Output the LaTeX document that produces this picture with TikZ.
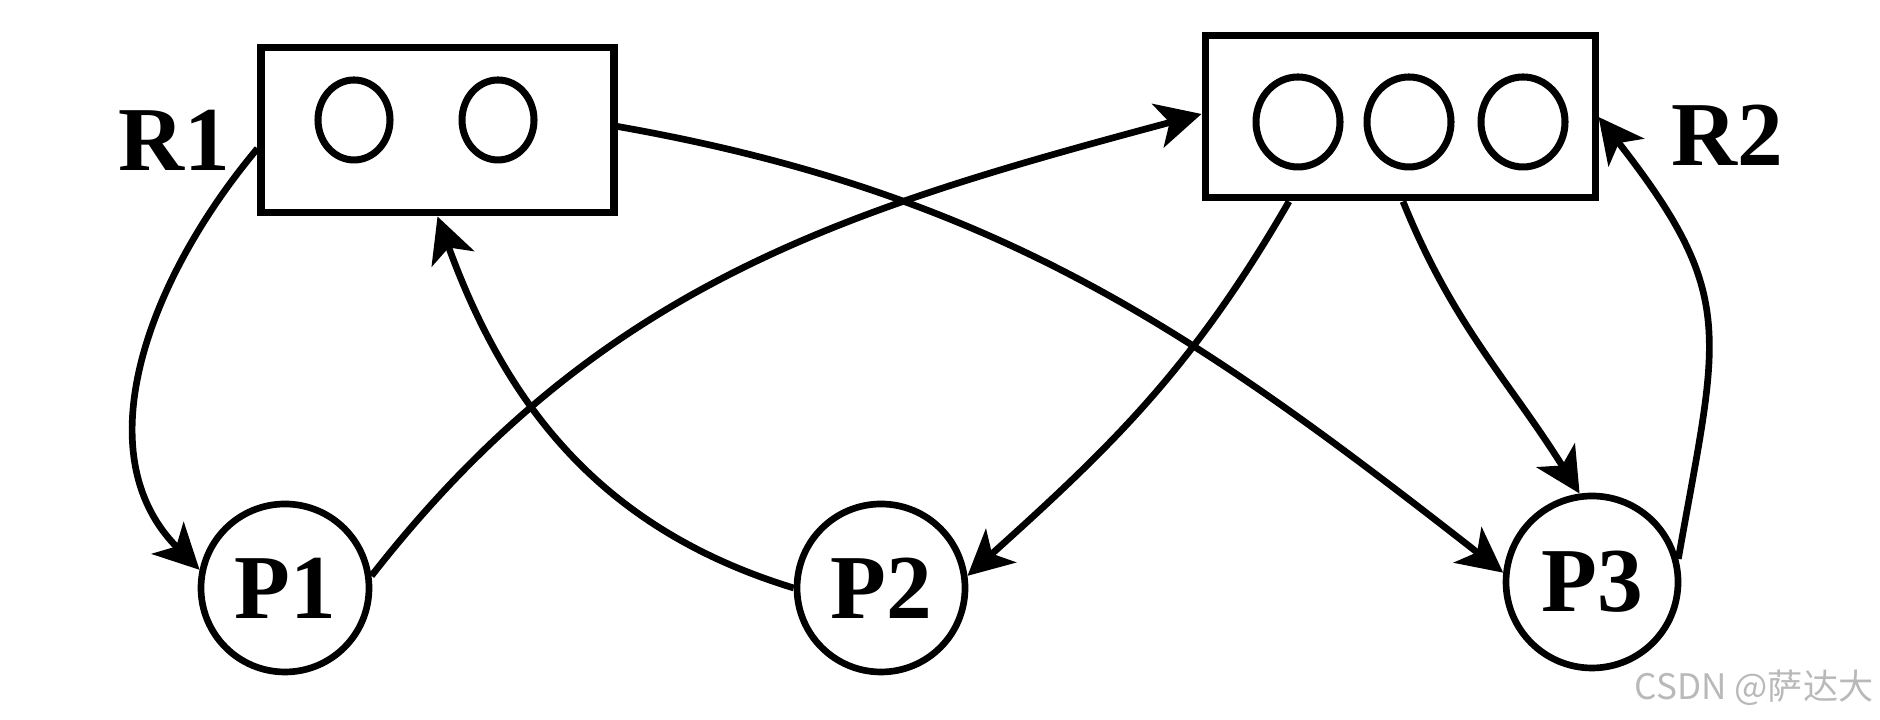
\documentclass[tikz,border=0pt]{standalone}
\usepackage{fontspec}
\setmainfont{Liberation Serif}
\newfontfamily\cjkfont{Noto Sans CJK SC}
\usetikzlibrary{arrows.meta,shapes.geometric}
\tikzset{
  res/.style={draw, line width=2pt, minimum width=3.53cm, minimum height=1.65cm},
  inst/.style={draw, ellipse, line width=2pt, minimum width=0.72cm, minimum height=0.8cm, inner sep=0pt},
  proc/.style={draw, circle, line width=1.9pt, minimum size=1.68cm, inner sep=0pt, font=\fontsize{26}{30}\selectfont\bfseries},
  lbl/.style={font=\fontsize{26}{30}\selectfont\bfseries},
  edge/.style={-{Stealth[length=4.5mm,width=4.5mm,inset=1.2mm]}, line width=1.9pt},
}
\begin{document}
\begin{tikzpicture}
    \useasboundingbox (0,0) rectangle (18.8,7.2);
    % resources
    \node[res] (R1) at (4.375,5.895) {};
    \node[res, minimum width=3.9cm, minimum height=1.62cm] (R2) at (14.0,6.03) {};
    \node[lbl] (R1l) at (1.74,5.8) {R1};
    \node[lbl] (R2l) at (17.27,5.85) {R2};

    \node[inst] (r1a) at (3.54,6.0) {};
    \node[inst] (r1b) at (4.98,6.0) {};
    \node[inst, minimum width=0.84cm, minimum height=0.9cm] (r2a) at (12.98,5.98) {};
    \node[inst, minimum width=0.84cm, minimum height=0.9cm] (r2b) at (14.09,5.98) {};
    \node[inst, minimum width=0.84cm, minimum height=0.9cm] (r2c) at (15.23,5.98) {};

    % processes
    \node[proc] (P1) at (2.85,1.32) {P1};
    \node[proc] (P2) at (8.81,1.32) {P2};
    \node[proc, minimum size=1.72cm] (P3) at (15.92,1.38) {P3};

    \draw[edge] ([yshift=-1.8mm]R1.west) to[out=230,in=135] (P1.168);
    \draw[edge] (P1.8) to[out=52,in=195] ([yshift=0.3mm]R2.west);
    \draw[edge] (P2.180) to[out=163,in=290] (R1.south);
    \draw[edge] ([yshift=0.4mm]R1.east) to[out=-10,in=142] (P3.174);
    \draw[edge] ([xshift=-11.1mm]R2.south) to[out=240,in=42] (P2.8);
    \draw[edge] ([xshift=0.3mm]R2.south) to[out=-68,in=122] (P3.98);
    \draw[edge] (P3.15) to[out=80,in=-52, looseness=1.3] (R2.east);

    \node[text=gray!55, font=\cjkfont\fontsize{10}{12}\selectfont] (wm) at (17.54,0.32) {CSDN @萨达大};
\end{tikzpicture}
\end{document}
